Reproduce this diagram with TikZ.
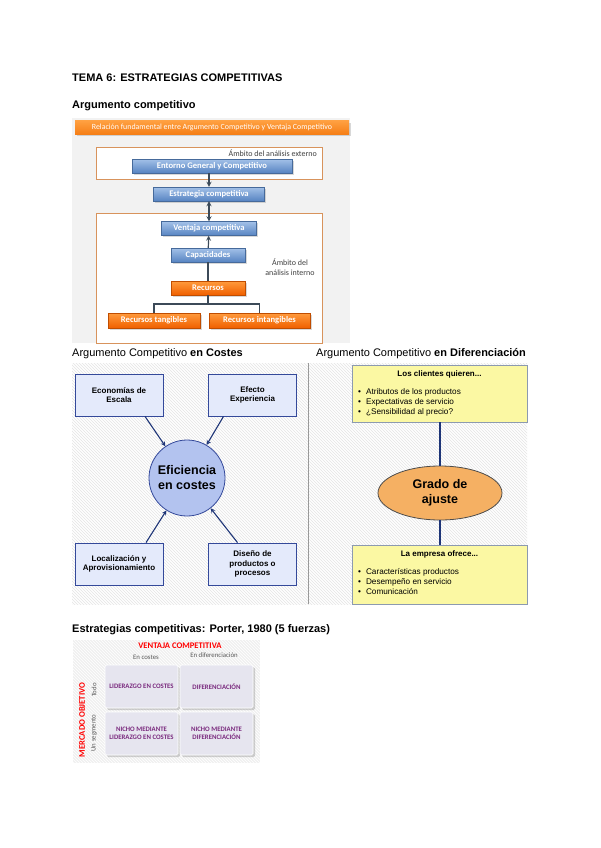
\documentclass[tikz,border=0pt]{standalone}
\usepackage{fontspec}
\setmainfont{Liberation Sans}
\newfontfamily\calibfont{Carlito}
\usetikzlibrary{positioning,shadows,patterns,shapes.geometric}

\definecolor{hdrorange}{HTML}{F57F17}
\definecolor{ambitline}{HTML}{D8935C}
\definecolor{boxblueA}{HTML}{A3C1E8}
\definecolor{boxblueB}{HTML}{5784C2}
\definecolor{boxorangeA}{HTML}{FF9B3D}
\definecolor{boxorangeB}{HTML}{F06000}
\definecolor{linkgray}{HTML}{3C4A58}
\definecolor{costfill}{HTML}{E4EAFB}
\definecolor{costline}{HTML}{34499A}
\definecolor{circfill}{HTML}{B3C3EF}
\definecolor{navy}{HTML}{1E3577}
\definecolor{yellowfill}{HTML}{FBF8A3}
\definecolor{yellowline}{HTML}{8C9AB0}
\definecolor{ellfill}{HTML}{F5B063}
\definecolor{cellfill}{HTML}{E6E5EF}
\definecolor{cellpurple}{HTML}{7A2A7E}

\begin{document}
\begin{tikzpicture}[x=1pt,y=-1pt,>=stealth,
  title/.style={anchor=west,inner sep=0pt,font=\fontsize{11}{13}\selectfont\bfseries},
  subtitle/.style={anchor=west,inner sep=0pt,font=\fontsize{11}{13}\selectfont},
  blue box/.style={rectangle,draw=boxblueB!80!black,top color=boxblueA,bottom color=boxblueB,
    text=white,inner sep=0pt,minimum height=14pt,font=\calibfont\fontsize{8.6}{9}\selectfont\bfseries,
    drop shadow={shadow xshift=1.5pt,shadow yshift=-1.5pt,opacity=.3}},
  orange box/.style={blue box,draw=boxorangeB!80!black,top color=boxorangeA,bottom color=boxorangeB},
  ambit/.style={draw=ambitline,line width=0.9pt},
  ambit text/.style={inner sep=0pt,align=center,text=black!75,font=\calibfont\fontsize{8}{10}\selectfont},
  link/.style={draw=linkgray,line width=1.2pt},
  cost box/.style={rectangle,draw=costline,fill=costfill,line width=0.8pt,minimum width=88pt,
    minimum height=42pt,align=center,font=\fontsize{8}{9.5}\selectfont\bfseries},
  cost arrow/.style={->,draw=navy,line width=1.1pt},
  wish box/.style={rectangle,draw=yellowline,fill=yellowfill,line width=0.8pt},
  wish title/.style={inner sep=0pt,font=\fontsize{8}{9}\selectfont\bfseries},
  wish list/.style={anchor=north west,inner sep=0pt,align=left,font=\fontsize{8.2}{10.2}\selectfont},
  cell/.style={rectangle,rounded corners=1.5pt,fill=cellfill,draw=white,line width=0.6pt,
    minimum width=73pt,minimum height=43pt,inner sep=1pt,align=center,text=cellpurple,
    font=\calibfont\fontsize{6.8}{8.2}\selectfont\bfseries,
    drop shadow={shadow xshift=2pt,shadow yshift=-2pt,opacity=.35}},
  axis red/.style={inner sep=0pt,text=red,font=\calibfont\fontsize{8.6}{9}\selectfont\bfseries},
  axis small/.style={inner sep=0pt,text=black!65,font=\calibfont\fontsize{6.8}{8}\selectfont}]

\fill[white] (0,0) rectangle (600,848);
\useasboundingbox (0,0) rectangle (600,848);

% headings
\node[title] (tema) at (72,78) {TEMA 6: ESTRATEGIAS COMPETITIVAS};
\node[title] (argtit) at (72,106) {Argumento competitivo};

% relacion argumento / ventaja
\fill[black!5] (72,118) rectangle (350,343);
\node[rectangle,top color=orange!75,bottom color=hdrorange,minimum width=274pt,minimum height=13pt,inner sep=0pt,
  text=white,font=\calibfont\fontsize{7.9}{9}\selectfont,
  drop shadow={shadow xshift=1.5pt,shadow yshift=-2pt,opacity=.3}] (header) at (212,127.5)
  {Relación fundamental entre Argumento Competitivo y Ventaja Competitivo};
\draw[ambit,fill=white] (96,147) rectangle (322,179);
\draw[ambit,fill=white] (96,213) rectangle (322,343);
\node[ambit text,anchor=east] (extlbl) at (317,153) {Ámbito del análisis externo};
\node[ambit text] (intlbl) at (290,267) {Ámbito del\\análisis interno};

\node[blue box,minimum width=160pt] (entorno) at (212,166) {Entorno General y Competitivo};
\node[blue box,minimum width=111pt] (estrategia) at (209,194) {Estrategia competitiva};
\node[blue box,minimum width=95pt] (ventaja) at (209,228.5) {Ventaja competitiva};
\node[blue box,minimum width=74pt] (capacidades) at (208,255) {Capacidades};
\node[orange box,minimum width=74pt] (recursos) at (208,288) {Recursos};
\node[orange box,minimum width=92pt,minimum height=15pt] (tangibles) at (154,320.5) {Recursos tangibles};
\node[orange box,minimum width=101pt,minimum height=15pt] (intangibles) at (259.5,320.5) {Recursos intangibles};
\coordinate (split) at (208,304);

\draw[link,->] (estrategia.north |- entorno.south) -- (estrategia);
\draw[link,<->] (estrategia) -- (ventaja);
\draw[link,->] (capacidades) -- (ventaja);
\draw[link] (recursos) -- (capacidades);
\draw[link] (recursos) -- (split) -| (tangibles);
\draw[link] (split) -| (intangibles);

% costes y diferenciacion
\node[subtitle] (costtit) at (72,354) {Argumento Competitivo \textbf{en Costes}};
\node[subtitle] (difftit) at (316,354) {Argumento Competitivo \textbf{en Diferenciación}};
\fill[white] (72,363) rectangle (527,604);
\fill[pattern=north west lines,pattern color=black!10] (72,363) rectangle (527,604);
\draw[black!40,line width=0.8pt] (308.5,363) -- (308.5,604);

\node[cost box] (escala) at (119,395) {Economías de\\Escala};
\node[cost box] (experiencia) at (252.5,395) {Efecto\\Experiencia};
\node[cost box] (localiz) at (119,564) {Localización y\\Aprovisionamiento};
\node[cost box] (diseno) at (252.5,564) {Diseño de\\productos o\\procesos};
\node[circle,draw=costline,fill=circfill,line width=0.8pt,minimum size=76pt,inner sep=0pt,align=center,
  font=\fontsize{12.5}{15}\selectfont\bfseries] (eficiencia) at (187,478) {Eficiencia\\en costes};

\draw[cost arrow] ([xshift=26pt]escala.south) -- (eficiencia);
\draw[cost arrow] ([xshift=-29pt]experiencia.south) -- (eficiencia);
\draw[cost arrow] ([xshift=27pt]localiz.north) -- (eficiencia);
\draw[cost arrow] ([xshift=-15pt]diseno.north) -- (eficiencia);

\node[wish box,minimum width=175pt,minimum height=57pt] (clientes) at (439.5,393.5) {};
\node[wish title] (clientestit) at (439.5,374) {Los clientes quieren...};
\node[wish list] (clienteslst) at (358,388) {\textbullet\hspace{5pt}Atributos de los productos\\
  \textbullet\hspace{5pt}Expectativas de servicio\\
  \textbullet\hspace{5pt}¿Sensibilidad al precio?};
\node[ellipse,draw=black!70,fill=ellfill,line width=0.8pt,minimum width=124pt,minimum height=54pt,inner sep=0pt,
  align=center,font=\fontsize{12.5}{15}\selectfont\bfseries] (ajuste) at (440,493) {Grado de\\ajuste};
\node[wish box,minimum width=175pt,minimum height=59pt] (empresa) at (439.5,574.5) {};
\node[wish title] (empresatit) at (439.5,554) {La empresa ofrece...};
\node[wish list] (empresalst) at (358,568) {\textbullet\hspace{5pt}Características productos\\
  \textbullet\hspace{5pt}Desempeño en servicio\\
  \textbullet\hspace{5pt}Comunicación};

\draw[navy,line width=1.1pt] (clientes.south -| ajuste.north) -- (ajuste);
\draw[navy,line width=1.1pt] (ajuste) -- (empresa.north -| ajuste.south);

% matriz de porter
\node[title] (portertit) at (72,630) {Estrategias competitivas: Porter, 1980 (5 fuerzas)};
\fill[black!6] (73,640) rectangle (260,763);
\fill[pattern=north west lines,pattern color=white] (73,640) rectangle (260,763);
\node[axis red] (ventajacomp) at (180,646) {VENTAJA COMPETITIVA};
\node[axis small] (encostes) at (146,657) {En costes};
\node[axis small] (endif) at (214,655) {En diferenciación};
\node[axis red,rotate=90] (mercado) at (82,720) {MERCADO OBJETIVO};
\node[axis small,rotate=90] (todo) at (94,690) {Todo};
\node[axis small,rotate=90] (segmento) at (94,733) {Un segmento};

\node[cell] (liderazgo) at (141.5,686.5) {LIDERAZGO EN COSTES};
\node[cell] (diferenc) at (216.5,686.5) {DIFERENCIACIÓN};
\node[cell] (nicholid) at (141.5,733.5) {NICHO MEDIANTE\\LIDERAZGO EN COSTES};
\node[cell] (nichodif) at (216.5,733.5) {NICHO MEDIANTE\\DIFERENCIACIÓN};
\end{tikzpicture}
\end{document}
